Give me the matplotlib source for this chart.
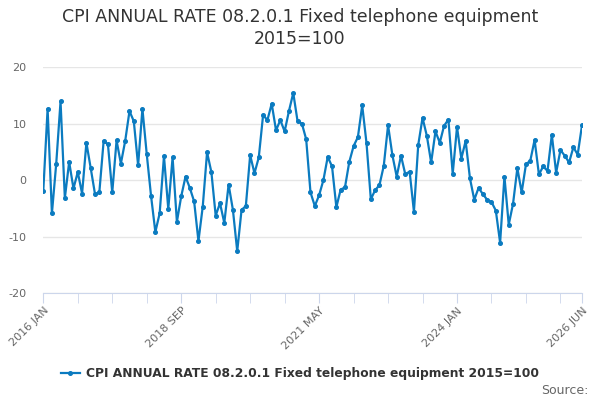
import matplotlib
matplotlib.use("Agg")
import matplotlib.pyplot as plt
import numpy as np

title = "CPI ANNUAL RATE 08.2.0.1 Fixed telephone equipment\n2015=100"
series_name = "CPI ANNUAL RATE 08.2.0.1 Fixed telephone equipment 2015=100"

# monthly annual rate, 2016 JAN .. 2026 JUN
values = [
    -1.9, 12.6, -5.9, 2.9, 13.9, -3.2, 3.2, -1.5, 1.4, -2.4, 6.6, 2.1,
    -2.5, -2.2, 6.9, 6.3, -2.2, 7.0, 2.9, 6.9, 12.2, 10.4, 2.6, 12.6,
    4.6, -2.8, -9.2, -5.9, 4.2, -5.1, 4.0, -7.4, -2.9, 0.6, -1.4, -3.8,
    -10.8, -4.7, 4.9, 1.4, -6.3, -4.1, -7.6, -0.8, -5.3, -12.6, -5.3, -4.6,
    4.4, 1.2, 4.0, 11.5, 10.6, 13.5, 8.8, 10.6, 8.6, 12.2, 15.4, 10.4,
    10.0, 7.2, -2.2, -4.6, -2.7, 0.0, 4.1, 2.4, -4.8, -1.7, -1.3, 3.2,
    6.0, 7.6, 13.2, 6.5, -3.4, -1.8, -0.9, 2.5, 9.7, 4.4, 0.6, 4.3,
    1.0, 1.5, -5.6, 6.2, 11.0, 7.8, 3.1, 8.6, 6.6, 9.6, 10.7, 1.1,
    9.4, 3.8, 6.9, 0.3, -3.5, -1.4, -2.5, -3.5, -3.9, -5.4, -11.1, 0.6,
    -7.9, -4.2, 2.1, -2.2, 2.8, 3.4, 7.1, 1.0, 2.4, 1.6, 8.0, 1.3,
    5.3, 4.3, 3.1, 5.8, 4.5, 9.7,
]
tick_labels = ["2016 JAN", "2018 SEP", "2021 MAY", "2024 JAN", "2026 JUN"]
label_pos = [0, 32, 64, 96, 125]
y_ticks = [-20, -10, 0, 10, 20]

x = np.arange(len(values))

fig = plt.figure(figsize=(6, 4), dpi=100)
ax = fig.add_axes([43.3 / 600, 1 - 293 / 400, (582 - 43.3) / 600, (293 - 67) / 400])

ax.plot(x, values, color="#0b7bc0", lw=1.6, marker="o", ms=2.6,
        label=series_name, zorder=3)

ax.set_xlim(0, len(values) - 1)
ax.set_ylim(-20, 20)
ax.set_yticks(y_ticks)
ax.set_yticklabels([str(v) for v in y_ticks])
ax.yaxis.grid(True, color="#e6e6e6", lw=1)
ax.tick_params(axis="y", length=0, labelsize=8, labelcolor="#666666", pad=12)

ax.set_xticks(label_pos)
ax.set_xticklabels(tick_labels)
ax.set_xticks(list(range(0, len(values), 8)) + [len(values) - 1], minor=True)
ax.tick_params(axis="x", which="both", length=7, color="#ccd6eb", labelsize=8,
               labelcolor="#666666", pad=2, labelrotation=45)
for lbl in ax.get_xticklabels():
    lbl.set_horizontalalignment("right")
    lbl.set_rotation_mode("anchor")

for side in ["top", "right", "left"]:
    ax.spines[side].set_visible(False)
ax.spines["bottom"].set_color("#ccd6eb")

fig.text(0.5, 1 - 8 / 400, title, ha="center", va="top", fontsize=12.5,
         color="#333333", linespacing=1.25)

fig.legend(loc="center", bbox_to_anchor=(0.5, 1 - 374 / 400), frameon=False,
           prop={"size": 8.8, "weight": "bold"}, labelcolor="#333333",
           handlelength=1.5, handletextpad=0.5)

fig.text(588 / 600, 1 - 390 / 400, "Source:", ha="right", va="center",
         fontsize=9, color="#666666")

fig.savefig("out.png", dpi=100)
